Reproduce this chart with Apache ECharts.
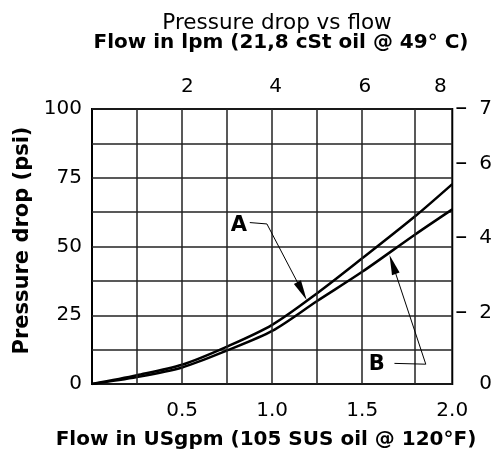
<!DOCTYPE html>
<html>
<head>
<meta charset="utf-8">
<script src="https://cdn.jsdelivr.net/npm/echarts@6/dist/echarts.min.js"></script>
<style>
  html, body { margin: 0; padding: 0; background: #fff; }
  #chart { width: 495px; height: 457px; }
</style>
</head>
<body>
<div id="chart"></div>
<script>
  // curve A and B, [USgpm, psi]
  var curveA = [[0, 0], [0.25, 3.2], [0.5, 7.0], [0.75, 13.6], [1.0, 21.5], [1.25, 33.0], [1.5, 45.7], [1.79, 60.8], [2.0, 72.7]]
  var curveB = [[0, 0], [0.25, 2.5], [0.5, 6.0], [0.75, 12.2], [1.0, 19.3], [1.25, 30.2], [1.5, 40.8], [1.79, 54.2], [2.0, 63.5]]

  var gpmLabels = [0.5, 1.0, 1.5, 2.0]
  var vGrid = [0.25, 0.5, 0.75, 1.0, 1.25, 1.5, 1.79]
  // top lpm scale (positions in gpm) and right scale (positions in psi)
  var lpmPos = [0.529, 1.019, 1.515, 1.934]
  var lpmText = ['2', '4', '6', '8']
  var rightPos = [0, 25.8, 53.1, 80, 100]
  var rightText = ['0', '2', '4', '6', '7']

  var font = 'DejaVu Sans, Liberation Sans, sans-serif'
  var fs = 20
  var myChart = echarts.init(document.getElementById('chart'))
  myChart.setOption({
    animation: false,
    backgroundColor: '#fff',
    textStyle: { fontFamily: font, color: '#000' },
    title: [
      { text: 'Pressure drop vs flow', left: 277, top: 13, padding: 0, textAlign: 'center',
        textStyle: { fontSize: 21.5, fontWeight: 'normal', color: '#000', lineHeight: 20 } },
      { text: 'Flow in lpm (21,8 cSt oil @ 49\u00b0 C)', left: 281, top: 33, padding: 0, textAlign: 'center',
        textStyle: { fontSize: 20, fontWeight: 'bold', color: '#000', lineHeight: 20 } },
      { text: 'Flow in USgpm (105 SUS oil @ 120\u00b0F)', left: 266, top: 430, padding: 0, textAlign: 'center',
        textStyle: { fontSize: 20, fontWeight: 'bold', color: '#000', lineHeight: 20 } }
    ],
    grid: {
      left: 92, right: 40, top: 109, bottom: 73,
      show: true, borderColor: '#000', borderWidth: 2
    },
    xAxis: [
      {
        type: 'value', min: 0, max: 2, position: 'bottom',
        axisLine: { show: false },
        axisTick: { show: false },
        splitLine: { show: false },
        axisLabel: {
          customValues: gpmLabels, fontSize: fs, color: '#000', margin: 17,
          formatter: function (v) { return v.toFixed(1) }
        }
      },
      {
        type: 'value', min: 0, max: 2, position: 'top',
        axisLine: { show: false },
        axisTick: { show: false },
        splitLine: { show: false },
        axisLabel: {
          customValues: lpmPos, fontSize: fs, color: '#000', margin: 12,
          formatter: function (v) { return lpmText[lpmPos.indexOf(v)] }
        }
      }
    ],
    yAxis: [
      {
        type: 'value', min: 0, max: 100, interval: 12.5,
        name: 'Pressure drop (psi)', nameLocation: 'middle', nameRotate: 90, nameGap: 56,
        nameTextStyle: { fontSize: 21, fontWeight: 'bold', color: '#000', padding: [0, 0, 0, 12] },
        axisLine: { show: false },
        axisTick: { show: false },
        splitLine: { show: true, lineStyle: { color: '#222', width: 1.5 } },
        axisLabel: {
          fontSize: fs, color: '#000', margin: 10,
          formatter: function (v) { return v % 25 === 0 ? String(v) : '' }
        }
      },
      {
        type: 'value', min: 0, max: 100, position: 'right',
        axisLine: { show: false },
        splitLine: { show: false },
        axisTick: { show: false },
        axisLabel: {
          customValues: rightPos, color: '#000', margin: 3, align: 'left',
          showMinLabel: true, showMaxLabel: true,
          formatter: function (v) {
            var t = rightText[rightPos.indexOf(v)]
            return v === 0 ? '{z|' + t + '}' : '{d|\u2013}{n|' + t + '}'
          },
          rich: {
            d: { fontSize: 24, fontFamily: font, color: '#000' },
            n: { fontSize: fs, fontFamily: font, color: '#000', padding: [0, 0, 0, 12] },
            z: { fontSize: fs, fontFamily: font, color: '#000', padding: [0, 0, 0, 24] }
          }
        }
      }
    ],
    series: [
      {
        name: 'grid', type: 'line', data: [], silent: true,
        markLine: {
          silent: true, symbol: 'none', label: { show: false },
          lineStyle: { type: 'solid', color: '#222', width: 1.5 },
          data: vGrid.map(function (x) { return { xAxis: x } })
        }
      },
      {
        name: 'A', type: 'line', smooth: 0.3, showSymbol: false,
        lineStyle: { color: '#000', width: 2.5 },
        data: curveA,
        markLine: {
          silent: true, symbol: 'none', label: { show: false },
          lineStyle: { type: 'solid', color: '#000', width: 1 },
          data: [
            [{ coord: [0.876, 58.7] }, { coord: [0.971, 58.2] }],
            [{ coord: [0.971, 58.2] }, { coord: [1.166, 33.8], symbol: 'triangle', symbolSize: [8, 20] }]
          ]
        },
        markPoint: {
          silent: true, symbol: 'circle', symbolSize: 1, itemStyle: { color: 'rgba(0,0,0,0)' },
          label: { show: true, position: 'inside', formatter: 'A', fontSize: 21, fontWeight: 'bold', color: '#000' },
          data: [{ coord: [0.815, 57.5] }]
        }
      },
      {
        name: 'B', type: 'line', smooth: 0.3, showSymbol: false,
        lineStyle: { color: '#000', width: 2.5 },
        data: curveB,
        markLine: {
          silent: true, symbol: 'none', label: { show: false },
          lineStyle: { type: 'solid', color: '#000', width: 1 },
          data: [
            [{ coord: [1.679, 7.5] }, { coord: [1.853, 7.2] }],
            [{ coord: [1.853, 7.2] }, { coord: [1.669, 43.5], symbol: 'triangle', symbolSize: [8, 20] }]
          ]
        },
        markPoint: {
          silent: true, symbol: 'circle', symbolSize: 1, itemStyle: { color: 'rgba(0,0,0,0)' },
          label: { show: true, position: 'inside', formatter: 'B', fontSize: 21, fontWeight: 'bold', color: '#000' },
          data: [{ coord: [1.581, 6.9] }]
        }
      }
    ]
  })
</script>
</body>
</html>
